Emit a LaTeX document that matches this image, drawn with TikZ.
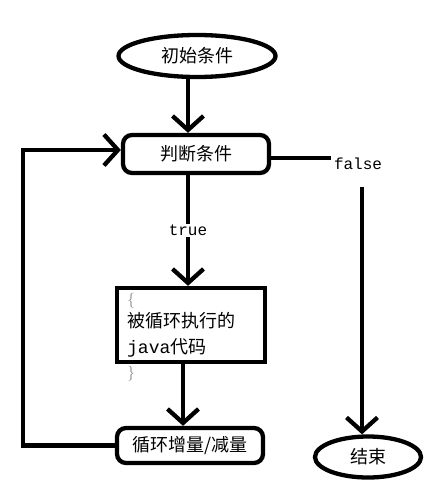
\documentclass[tikz,border=0pt]{standalone}
\usepackage{fontspec}
\setmonofont{Liberation Mono}
\newfontfamily\cjk{Noto Sans CJK SC}
\usetikzlibrary{shapes.geometric,arrows.meta}
\begin{document}
\begin{tikzpicture}[x=1pt,y=-1pt,line width=4.3pt,
	fl/.style={draw,font=\cjk\fontsize{18}{22}\selectfont,inner sep=0pt},
	ell/.style={fl,ellipse},
	rbox/.style={fl,rectangle,rounded corners=9pt},
	lbl/.style={font=\ttfamily\fontsize{16}{18}\selectfont,fill=white,inner sep=1pt},
	brc/.style={text=gray,font=\fontsize{15}{16}\selectfont,inner sep=0pt},
	arr/.style={-{Straight Barb[length=14pt,width=31pt]}}]
	\useasboundingbox (0,0) rectangle (446,503);
		\node[ell,minimum width=157pt,minimum height=42pt] (start) at (197,56) {初始条件\hspace{14pt}};
		\node[rbox,minimum width=146pt,minimum height=38pt] (cond) at (196,154) {判断条件\hspace{10pt}};
		\node[fl,minimum width=148pt,minimum height=74pt] (body) at (191,325) {};
		\node[rbox,minimum width=146pt,minimum height=35pt] (incr) at (190,445.5) {循环增量/减量\hspace{12pt}};
		\node[ell,minimum width=106pt,minimum height=41pt] (end) at (368,457) {结束\hspace{8pt}};
			\node[draw=none,anchor=west,align=left,inner sep=0pt,font=\cjk\fontsize{18}{26}\selectfont] (code) at (125,335) {被循环执行的\\{\ttfamily java}代码};
			\node[brc] (lb) at (131,301) {\{};
			\node[brc] (rb) at (131,374) {\}};
			\node[lbl] (ff) at (358,164) {false};
				\draw[arr] ([xshift=-9pt]start.south) -- ([xshift=-9pt]start.south |- cond.north);
				\draw[arr] ([xshift=-8pt]cond.south) -- node[lbl]{true} ([xshift=-8pt]cond.south |- body.north);
				\draw[arr] ([xshift=-8pt]body.south) -- ([xshift=-8pt]body.south |- incr.north);
				\draw[arr] (incr.west) -- ++(-92,0) |- ([yshift=4pt]cond.west);
				\draw ([yshift=-4pt]cond.east) -- ([yshift=-4pt]cond.east -| ff.west);
				\draw[arr] (ff.south -| end.north) ++(-6,14) -- ([xshift=-6pt]end.north);
\end{tikzpicture}
\end{document}
